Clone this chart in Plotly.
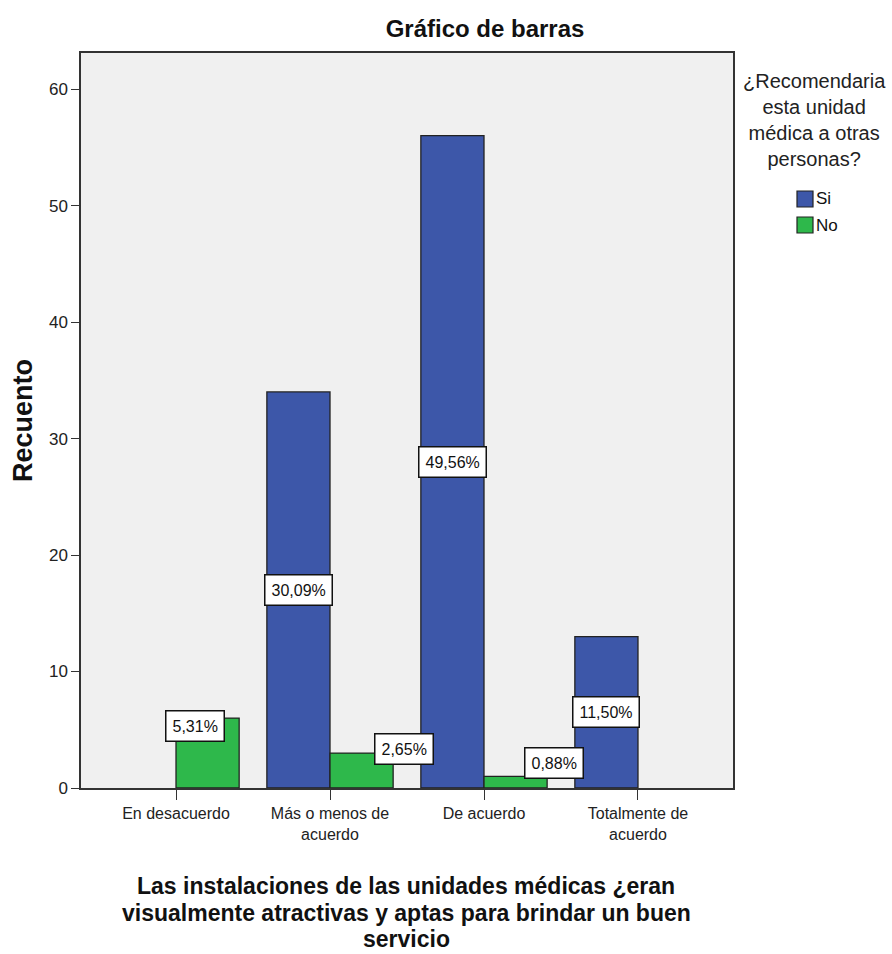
import plotly.graph_objects as go

# Response categories on the x axis
categories = ["En desacuerdo", "Más o menos de<br>acuerdo", "De acuerdo", "Totalmente de<br>acuerdo"]

# Counts per answer to "¿Recomendaria esta unidad médica a otras personas?"
si_counts = [0, 34, 56, 13]
no_counts = [6, 3, 1, 0]

# Percentages printed on the bars (share of all 113 respondents)
si_pct_labels = [None, "30,09%", "49,56%", "11,50%"]
no_pct_labels = ["5,31%", "2,65%", "0,88%", None]

BLUE = "#3d57a9"
GREEN = "#2eb84b"
EDGE = "#222222"
FONT = "Liberation Sans, Arial, sans-serif"

W, H = 892, 954
L, R, T, B = 81, 733, 53, 788  # plot area in pixels

x_idx = list(range(len(categories)))
BARGAP = 0.18
BAR_W = (1 - BARGAP) / 2  # width of one bar in category units


def outline(values):
    # no outline on empty bars so nothing is drawn along the baseline
    return [1.3 if v else 0 for v in values]


fig = go.Figure()
fig.add_trace(go.Bar(name="Si", x=x_idx, y=si_counts,
                     marker=dict(color=BLUE, line=dict(color=EDGE, width=outline(si_counts)))))
fig.add_trace(go.Bar(name="No", x=x_idx, y=no_counts,
                     marker=dict(color=GREEN, line=dict(color=EDGE, width=outline(no_counts)))))


def px_to_paper_x(px):
    return (px - L) / (R - L)


def px_to_paper_y(py):
    return (B - py) / (B - T)


annotations = []
box = dict(bgcolor="white", bordercolor="#111111", borderwidth=1.5, borderpad=6,
           font=dict(family=FONT, size=16, color="#111111"), showarrow=False)

# Percent boxes on the "Si" bars: centred in the bar, half-way up
for i, (v, lab) in enumerate(zip(si_counts, si_pct_labels)):
    if lab:
        annotations.append(dict(x=i - BAR_W / 2, y=v / 2, xref="x", yref="y", text=lab, **box))

# Percent boxes on the short "No" bars, nudged clear of neighbouring marks
no_label_shift = [(19, -8), (74, 4), (70, 13), (0, 0)]
for i, (v, lab) in enumerate(zip(no_counts, no_pct_labels)):
    if lab:
        dx, dy = no_label_shift[i]
        annotations.append(dict(x=i, y=v, xref="x", yref="y", text=lab, xshift=dx, yshift=dy, **box))

# X axis title, one annotation per line for tight SPSS-like leading
xtitle_lines = [
    "Las instalaciones de las unidades médicas ¿eran",
    "visualmente atractivas y aptas para brindar un buen",
    "servicio",
]
for k, line in enumerate(xtitle_lines):
    annotations.append(dict(
        x=px_to_paper_x(406), y=px_to_paper_y(886 + 26.5 * k), xref="paper", yref="paper",
        text=f"<b>{line}</b>", showarrow=False, xanchor="center", yanchor="middle",
        font=dict(family=FONT, size=23, color="#111111")))

# Legend title and entries
annotations.append(dict(
    x=px_to_paper_x(814), y=px_to_paper_y(68), xref="paper", yref="paper",
    text="¿Recomendaria<br>esta unidad<br>médica a otras<br>personas?", showarrow=False,
    xanchor="center", yanchor="top", align="center",
    font=dict(family=FONT, size=20, color="#222222")))

shapes = []
legend_items = [("Si", BLUE, 199), ("No", GREEN, 225)]
for name, color, cy in legend_items:
    shapes.append(dict(type="rect", xref="paper", yref="paper",
                       x0=px_to_paper_x(797), x1=px_to_paper_x(813),
                       y0=px_to_paper_y(cy + 8), y1=px_to_paper_y(cy - 8),
                       fillcolor=color, line=dict(color=EDGE, width=1.2)))
    annotations.append(dict(x=px_to_paper_x(814), y=px_to_paper_y(cy), xref="paper", yref="paper",
                            text=name, showarrow=False, xanchor="left", yanchor="middle",
                            font=dict(family=FONT, size=17, color="#111111")))

fig.update_layout(
    width=W, height=H,
    margin=dict(l=L, r=W - R, t=T, b=H - B),
    paper_bgcolor="white",
    plot_bgcolor="#f0f0f0",
    barmode="group",
    bargap=BARGAP,
    bargroupgap=0,
    showlegend=False,
    title=dict(text="<b>Gráfico de barras</b>", x=485 / W, y=1 - 29 / H, xref="container", yref="container",
               xanchor="center", yanchor="middle", font=dict(family=FONT, size=24, color="#111111")),
    font=dict(family=FONT, size=17, color="#222222"),
    annotations=annotations,
    shapes=shapes,
)

fig.update_xaxes(
    tickmode="array", tickvals=x_idx, ticktext=categories,
    range=[-0.617, len(categories) - 1 + 0.617],
    showgrid=False, zeroline=False,
    showline=True, linecolor="#333333", linewidth=1.5, mirror=True,
    ticks="outside", ticklen=10, tickwidth=1.3, tickcolor="#333333",
    tickfont=dict(family=FONT, size=16, color="#222222"),
)
fig.update_yaxes(
    range=[0, 63.1], tickvals=[0, 10, 20, 30, 40, 50, 60],
    showgrid=False, zeroline=False,
    showline=True, linecolor="#333333", linewidth=1.5, mirror=True,
    ticks="outside", ticklen=8, tickwidth=1.3, tickcolor="#333333",
    tickfont=dict(family=FONT, size=17, color="#222222"),
    title=dict(text="<b>Recuento</b>", standoff=8, font=dict(family=FONT, size=27, color="#111111")),
)

fig.write_html("out.html")
